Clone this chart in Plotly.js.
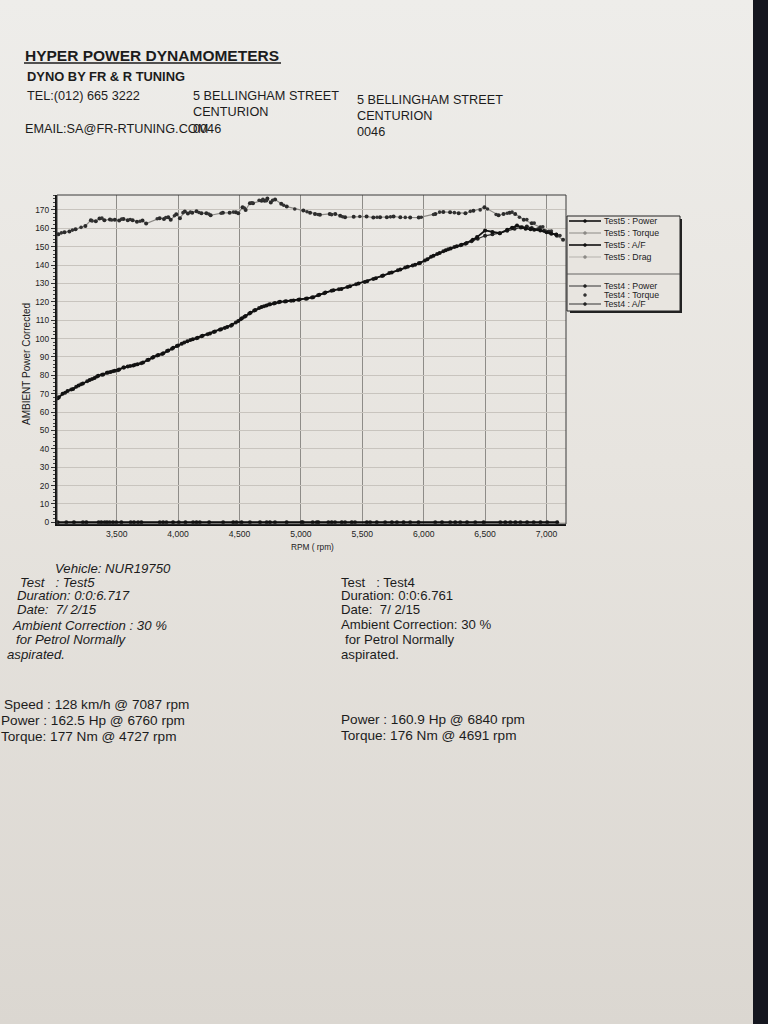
<!DOCTYPE html>
<html>
<head>
<meta charset="utf-8">
<script src="https://cdn.plot.ly/plotly-3.0.1.min.js"></script>
<style>
html,body{margin:0;padding:0;width:768px;height:1024px;overflow:hidden;
background:linear-gradient(180deg,#eeedea 0%,#e7e4df 45%,#dbd7d1 100%);}
#chart{width:768px;height:1024px;}
</style>
</head>
<body>
<div id="chart"></div>
<script>
// ---------------- data read from the dyno sheet ----------------
const rpmPower5 = [3020,3060,3100,3145,3190,3225,3280,3320,3350,3390,3420,3450,3485,3520,3555,3590,3635,3670,3715,3760,3800,3840,3880,3920,3960,3990,4030,4075,4120,4160,4200,4260,4300,4350,4400,4440,4490,4520,4550,4590,4630,4680,4720,4750,4790,4830,4880,4940,4990,5050,5100,5150,5200,5265,5330,5400,5470,5540,5610,5670,5740,5810,5870,5930,5970,6030,6080,6130,6180,6220,6270,6310,6350,6400,6435,6500,6560,6620,6680,6720,6760,6800,6830,6870,6900,6950,7000,7040,7080];
const power5 = [67.5,70.0,71.5,72.5,74.5,75.5,77.5,78.5,79.7,80.5,81.4,81.8,82.5,83.2,84.2,84.8,85.3,86.0,87.0,88.5,90.0,91.0,92.0,93.5,95.0,96.0,97.2,98.5,99.6,100.5,101.5,102.7,103.8,105.0,106.3,107.5,109.5,111.0,112.3,114.0,115.5,117.1,118.0,118.6,119.3,120.0,120.3,120.7,121.3,121.8,122.5,123.8,125.0,126.3,127.0,128.5,130.0,131.2,132.8,134.3,136.0,137.5,139.0,140.2,141.1,143.2,145.1,146.5,148.0,149.0,150.2,151.0,152.0,153.8,155.2,158.8,158.0,157.3,159.2,160.3,161.5,160.5,159.8,159.4,159.2,158.8,157.8,157.0,156.5];

const rpmPower4 = [3030,3080,3130,3170,3210,3260,3300,3340,3380,3430,3470,3510,3560,3610,3650,3700,3750,3790,3830,3870,3910,3950,4000,4050,4100,4150,4190,4240,4290,4340,4380,4430,4470,4510,4540,4580,4620,4660,4700,4740,4780,4820,4870,4920,4980,5040,5090,5140,5190,5250,5310,5380,5450,5520,5590,5660,5720,5790,5850,5910,5960,6010,6060,6110,6160,6200,6250,6300,6340,6390,6440,6500,6560,6620,6680,6740,6790,6840,6880,6930,6980,7030,7080];
const power4 = [68.0,70.5,72.3,73.8,75.2,76.8,78.0,79.3,80.3,81.5,82.2,82.8,84.3,85.0,85.7,86.6,88.3,89.6,90.8,91.6,93.2,94.5,96.2,97.8,99.2,100.2,101.2,102.3,103.5,104.8,105.8,107.0,108.7,110.5,111.8,113.6,115.2,116.6,117.6,118.5,119.1,119.8,120.2,120.6,121.1,121.6,122.3,123.5,124.7,126.0,126.8,128.1,129.6,130.8,132.4,134.0,135.6,137.1,138.6,139.8,140.9,142.5,144.5,146.0,147.5,148.6,149.8,150.8,151.6,153.0,154.3,155.9,156.7,157.3,158.6,159.8,160.4,160.9,160.2,159.5,158.6,157.6,156.6];

const rpmTorque5 = [3025,3075,3115,3165,3245,3290,3330,3360,3400,3445,3485,3520,3555,3590,3630,3665,3710,3740,3850,3885,3920,3940,3985,4015,4055,4080,4115,4150,4190,4230,4265,4365,4420,4470,4490,4525,4550,4585,4610,4680,4705,4727,4755,4790,4840,4885,5020,5075,5115,5155,5235,5280,5320,5360,5430,5535,5590,5645,5700,5755,5810,5890,5960,6095,6160,6215,6285,6340,6405,6495,6610,6650,6700,6745,6815,6880,6950,7020,7085,7135];
const torque5 = [156.8,157.9,158.3,159.5,161.3,164.4,163.8,165.3,164.4,164.8,164.6,164.2,165.1,164.4,164.4,163.5,164.2,162.6,165.5,165.1,166.0,164.6,167.6,165.5,169.1,168.0,168.5,169.2,168.2,168.2,167.1,168.4,168.4,168.7,168.2,171.4,170.0,173.6,173.6,175.0,175.0,176.2,174.0,175.7,173.3,171.8,169.6,168.5,167.8,167.3,167.8,167.8,166.8,166.0,166.2,166.4,165.8,166.0,166.0,166.4,166.0,165.8,165.8,167.8,168.9,168.7,168.2,168.2,169.5,171.4,167.1,167.8,168.5,167.8,164.6,162.7,160.6,158.3,155.9,153.8];

const rpmTorque4 = [3050,3140,3210,3300,3380,3460,3540,3610,3690,3830,3900,3970,4040,4100,4170,4250,4350,4450,4540,4600,4660,4691,4720,4770,4860,4950,5050,5140,5250,5340,5480,5620,5730,5850,5980,6080,6130,6250,6380,6460,6520,6590,6680,6720,6780,6840,6900,6970,7040,7110];
const torque4 = [157.5,159.0,160.5,164.0,165.5,164.5,165.0,164.8,163.8,165.2,165.8,166.8,168.5,168.8,168.6,167.8,168.2,168.8,171.0,173.8,175.2,175.8,175.0,175.2,172.5,170.5,169.0,167.5,167.4,166.3,166.4,166.0,166.2,165.9,166.0,167.5,168.8,168.5,169.2,170.0,170.5,167.5,168.2,168.8,166.0,164.8,162.8,160.8,158.5,156.0];

const rpmAF5 = [3020,3152,3253,3375,3421,3470,3538,3641,3701,3878,3959,4060,4150,4253,4449,4517,4667,4748,4884,5006,5142,5251,5333,5414,5537,5618,5741,5836,5958,6149,6257,6353,6488,6665,6747,6842,6951,7087];
const af5 = [0,0,0,0,0,0,0,0,0,0,0,0,0,0,0,0,0,0,0,0,0,0,0,0,0,0,0,0,0,0,0,0,0,0,0,0,0,0];
const rpmAF4 = [3090,3225,3353,3402,3443,3497,3614,3674,3851,3905,4006,4122,4177,4367,4476,4585,4721,4789,5015,5096,5129,5224,5278,5360,5441,5564,5686,5782,5890,6094,6216,6298,6420,6624,6706,6788,6896,7006];
const af4 = [0,0,0,0,0,0,0,0,0,0,0,0,0,0,0,0,0,0,0,0,0,0,0,0,0,0,0,0,0,0,0,0,0,0,0,0,0,0];

const legendLabels = ['Test5 : Power','Test5 : Torque','Test5 : A/F','Test5 : Drag','Test4 : Power','Test4 : Torque','Test4 : A/F'];

// ---------------- page geometry helpers (pixels -> paper) ----------------
const ML = 57, MR = 202, MT = 195, MB = 500;
const PW = 768 - ML - MR, PH = 1024 - MT - MB;
const X = px => (px - ML) / PW;
const Y = py => (1024 - MB - py) / PH;
const FONT = 'Liberation Sans, Arial, Helvetica, sans-serif';
const INK = '#1c1c1c';

function txt(px, py, text, size, extra) {
  return Object.assign({
    xref: 'paper', yref: 'paper', x: X(px), y: Y(py),
    xanchor: 'left', yanchor: 'middle', showarrow: false,
    text: text, borderpad: 0,
    font: {family: FONT, size: size, color: INK}
  }, extra || {});
}
const S = s => s.replace(/ {2}/g, ' \u00a0');

// ---------------- traces ----------------
const traces = [
  {x: rpmTorque5, y: torque5, type: 'scatter', mode: 'lines+markers', name: legendLabels[1],
   line: {color: '#8c8a86', width: 1.2}, marker: {color: '#2a2a2a', size: 4}},
  {x: rpmTorque4, y: torque4, type: 'scatter', mode: 'markers', name: legendLabels[5],
   marker: {color: '#333', size: 3.6}},
  {x: rpmPower4, y: power4, type: 'scatter', mode: 'lines+markers', name: legendLabels[4],
   line: {color: '#2b2b2b', width: 1.2}, marker: {color: '#222', size: 4}},
  {x: rpmPower5, y: power5, type: 'scatter', mode: 'lines+markers', name: legendLabels[0],
   line: {color: '#111', width: 1.8}, marker: {color: '#111', size: 4}},
  {x: rpmAF4, y: af4, type: 'scatter', mode: 'lines+markers', name: legendLabels[6], cliponaxis: false,
   line: {color: '#222', width: 1}, marker: {color: '#222', size: 4}},
  {x: rpmAF5, y: af5, type: 'scatter', mode: 'lines+markers', name: legendLabels[2], cliponaxis: false,
   line: {color: '#111', width: 2}, marker: {color: '#111', size: 4}}
];

// ---------------- header / footer text ----------------
const annotations = [
  txt(24, 55.5, '<b>HYPER POWER DYNAMOMETERS</b>', 15.5),
  txt(26, 76.5, '<b>DYNO BY FR &amp; R TUNING</b>', 12.9),
  txt(26, 96, 'TEL:(012) 665 3222', 12.7),
  txt(192, 96, '5 BELLINGHAM STREET', 12.7),
  txt(192, 112, 'CENTURION', 12.7),
  txt(24, 129, 'EMAIL:SA@FR-RTUNING.COM', 12.7),
  txt(192, 129, '0046', 12.7),
  txt(356, 100, '5 BELLINGHAM STREET', 12.7),
  txt(356, 116, 'CENTURION', 12.7),
  txt(356, 131.5, '0046', 12.7),

  txt(54, 568, '<i>Vehicle: NUR19750</i>', 13.2),
  txt(19, 582, S('<i>Test   : Test5</i>'), 13.2),
  txt(16, 595.5, '<i>Duration: 0:0:6.717</i>', 13.2),
  txt(16, 609.5, S('<i>Date:  7/ 2/15</i>'), 13.2),
  txt(11, 625, '<i>Ambient Correction : 30 %</i>', 13.2),
  txt(15, 639.5, '<i>for Petrol Normally</i>', 13.2),
  txt(6, 654.5, '<i>aspirated.</i>', 13.2),

  txt(340, 582, S('Test   : Test4'), 13.2),
  txt(340, 595.5, 'Duration: 0:0:6.761', 13.2),
  txt(340, 609.5, S('Date:  7/ 2/15'), 13.2),
  txt(340, 624.5, 'Ambient Correction: 30 %', 13.2),
  txt(344, 639.5, 'for Petrol Normally', 13.2),
  txt(340, 654.5, 'aspirated.', 13.2),

  txt(3, 704.5, 'Speed : 128 km/h @ 7087 rpm', 13.6),
  txt(0, 720.5, 'Power : 162.5 Hp @ 6760 rpm', 13.6),
  txt(0, 736, 'Torque: 177 Nm @ 4727 rpm', 13.6),
  txt(340, 719.5, 'Power : 160.9 Hp @ 6840 rpm', 13.6),
  txt(340, 735, 'Torque: 176 Nm @ 4691 rpm', 13.6),

  txt(26, 364, 'AMBIENT Power Corrected', 10, {xanchor: 'center', textangle: -90}),
  txt(312, 547, 'RPM ( rpm)', 8.3, {xanchor: 'center'})
];

// ---------------- shapes: underline, frame, custom legend, page edge ----------------
const shapes = [
  {type: 'line', xref: 'paper', yref: 'paper', x0: X(24), x1: X(281), y0: Y(63), y1: Y(63), line: {color: INK, width: 1.3}},
  // plot frame (top/right thin)
  {type: 'rect', xref: 'paper', yref: 'paper', x0: 0, x1: 1, y0: 0, y1: 1, line: {color: '#3a3a3a', width: 1}},
  // legend shadow + box
  {type: 'rect', xref: 'paper', yref: 'paper', x0: X(570), x1: X(682), y0: Y(313), y1: Y(219), fillcolor: '#222', line: {width: 0}},
  {type: 'rect', xref: 'paper', yref: 'paper', x0: X(567), x1: X(680), y0: Y(311), y1: Y(216), fillcolor: '#e8e5e0', line: {color: '#222', width: 1}},
  {type: 'line', xref: 'paper', yref: 'paper', x0: X(567), x1: X(680), y0: Y(274), y1: Y(274), line: {color: '#444', width: 0.8}},
  // dark background at the right edge of the photo
  {type: 'rect', xref: 'paper', yref: 'paper', x0: X(753), x1: X(770), y0: Y(1026), y1: Y(-2), fillcolor: '#15161f', line: {width: 0}}
];

const legendRows = [221, 233, 245, 257, 286, 295, 304];
const legendStyle = [
  {lc: '#111', lw: 1.6, mc: '#111', line: true},
  {lc: '#8c8a86', lw: 1, mc: '#8c8a86', line: true},
  {lc: '#111', lw: 1.6, mc: '#111', line: true},
  {lc: '#b5b2ad', lw: 1, mc: '#8c8a86', line: true},
  {lc: '#333', lw: 1, mc: '#222', line: true},
  {lc: '#333', lw: 1, mc: '#333', line: false},
  {lc: '#333', lw: 1, mc: '#222', line: true}
];
legendRows.forEach((py, i) => {
  const st = legendStyle[i];
  if (st.line) shapes.push({type: 'line', xref: 'paper', yref: 'paper', x0: X(569), x1: X(601), y0: Y(py), y1: Y(py), line: {color: st.lc, width: st.lw}});
  shapes.push({type: 'circle', xref: 'paper', yref: 'paper', x0: X(583.5), x1: X(586.5), y0: Y(py + 1.5), y1: Y(py - 1.5), fillcolor: st.mc, line: {color: st.mc, width: 0.5}});
  annotations.push(txt(603, py, legendLabels[i], 8.8, {font: {family: FONT, size: 8.8, color: '#222'}}));
});

const layout = {
  width: 768, height: 1024,
  margin: {l: ML, r: MR, t: MT, b: MB, pad: 0},
  paper_bgcolor: 'rgba(0,0,0,0)', plot_bgcolor: 'rgba(0,0,0,0)',
  showlegend: false,
  font: {family: FONT, color: INK},
  xaxis: {
    range: [3014, 7159], tick0: 3500, dtick: 500, tickformat: ',',
    showgrid: true, gridcolor: '#8e8c88', gridwidth: 1,
    showline: true, linecolor: '#111', linewidth: 2.2,
    ticks: '', tickfont: {size: 8.6, color: '#222'}, zeroline: false
  },
  yaxis: {
    range: [-0.9, 178.1], tick0: 0, dtick: 10,
    showgrid: true, gridcolor: '#c8c4be', gridwidth: 1,
    showline: true, linecolor: '#111', linewidth: 2.2,
    ticks: 'outside', ticklen: 4, tickcolor: '#333', tickwidth: 1,
    minor: {ticks: 'outside', dtick: 2, ticklen: 2, tickcolor: '#444', showgrid: false},
    tickfont: {size: 8.4, color: '#222'}, zeroline: false
  },
  annotations: annotations,
  shapes: shapes
};

Plotly.newPlot('chart', traces, layout, {staticPlot: true, displayModeBar: false});
</script>
</body>
</html>
